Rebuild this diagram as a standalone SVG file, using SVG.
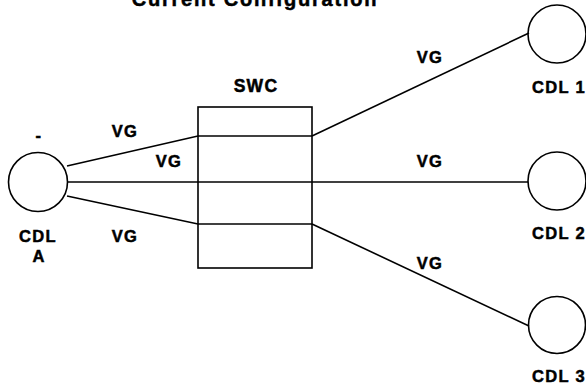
<svg xmlns="http://www.w3.org/2000/svg" width="586" height="392" viewBox="0 0 586 392">
<style>
.bg{fill:#ffffff}
.node{fill:none;stroke:#000;stroke-width:1.6}
.edge{fill:none;stroke:#000;stroke-width:1.6}
.lbl{font-family:"Liberation Sans",Arial,sans-serif;font-weight:bold;font-size:16.5px;fill:#000;stroke:#000;stroke-width:0.5;text-anchor:middle;letter-spacing:1.3px}
.title{font-family:"Liberation Sans",Arial,sans-serif;font-weight:bold;font-size:20px;fill:#000;stroke:#000;stroke-width:0.5;text-anchor:middle;letter-spacing:1.8px}
</style>
<rect class="bg" x="0" y="0" width="586" height="392"/>
<text class="title" x="255" y="6">Current Configuration</text>
<g id="connectors">
<line class="edge" x1="67" y1="166" x2="198" y2="136"/>
<line class="edge" x1="67" y1="182" x2="528" y2="182"/>
<line class="edge" x1="67" y1="196" x2="198" y2="224"/>
<line class="edge" x1="312" y1="136" x2="529" y2="33"/>
<line class="edge" x1="312" y1="224" x2="529" y2="326"/>
<text class="lbl" x="125" y="137">VG</text>
<text class="lbl" x="169" y="167">VG</text>
<text class="lbl" x="125" y="242">VG</text>
<text class="lbl" x="430" y="63">VG</text>
<text class="lbl" x="430" y="167">VG</text>
<text class="lbl" x="430" y="269">VG</text>
</g>
<g id="cdlA">
<circle class="node" cx="38" cy="182" r="29.5"/>
<text class="lbl" x="39" y="141">-</text>
<text class="lbl" x="38" y="242">CDL</text>
<text class="lbl" x="39" y="262">A</text>
</g>
<g id="swc">
<rect class="node" x="198" y="107" width="114" height="161"/>
<line class="node" x1="198" y1="136" x2="312" y2="136"/>
<line class="node" x1="198" y1="224" x2="312" y2="224"/>
<text class="lbl" x="256" y="92" style="font-size:17.5px">SWC</text>
</g>
<g id="cdl1">
<circle class="node" cx="557" cy="34" r="29"/>
<text class="lbl" x="559" y="93">CDL 1</text>
</g>
<g id="cdl2">
<circle class="node" cx="557" cy="181" r="29"/>
<text class="lbl" x="559" y="239">CDL 2</text>
</g>
<g id="cdl3">
<circle class="node" cx="557" cy="325" r="28.5"/>
<text class="lbl" x="559" y="382">CDL 3</text>
</g>
</svg>
